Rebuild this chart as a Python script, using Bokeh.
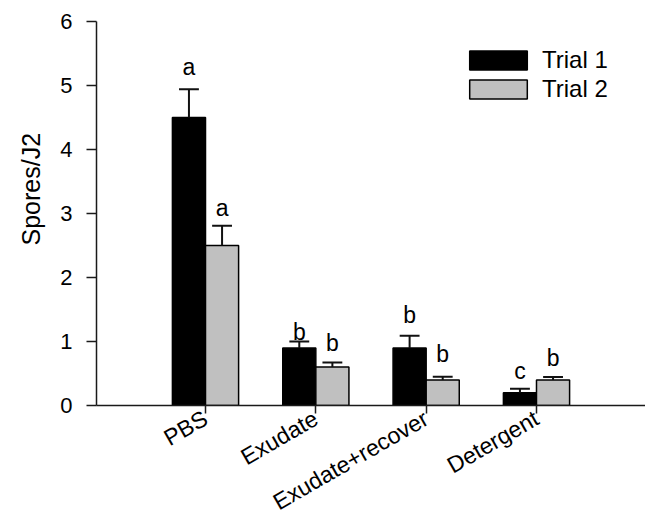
import numpy as np
from bokeh.plotting import figure
from bokeh.models import FixedTicker, Legend, LegendItem, Range1d, Title
from bokeh.core.properties import value
from bokeh.embed import file_html
from bokeh.resources import INLINE

categories = ["PBS", "Exudate", "Exudate+recover", "Detergent"]
trial1 = [4.5, 0.9, 0.9, 0.2]
trial1_se = [0.44, 0.10, 0.19, 0.06]
trial2 = [2.5, 0.6, 0.4, 0.4]
trial2_se = [0.31, 0.07, 0.05, 0.045]
trial1_letters = ["a", "b", "b", "c"]
trial2_letters = ["a", "b", "b", "b"]
trial1_letter_y = [5.18, 1.04, 1.30, 0.43]
trial2_letter_y = [2.97, 0.87, 0.69, 0.64]
y_ticks = [0, 1, 2, 3, 4, 5, 6]
y_label = "Spores/J2"

FONT = "Liberation Sans"

pos = np.arange(1, len(categories) + 1)
bw = 0.3
x1 = pos - bw / 2
x2 = pos + bw / 2

xr = Range1d(0.012, 4.988)
yr = Range1d(0, 6)
p = figure(width=645, height=529, output_backend="svg", toolbar_location=None,
           x_range=xr, y_range=yr,
           min_border_left=96, min_border_right=0, min_border_top=21,
           min_border_bottom=124)
p.outline_line_color = None
p.xgrid.visible = False
p.ygrid.visible = False
p.background_fill_color = "white"
p.border_fill_color = "white"

r1 = p.vbar(x=x1, top=trial1, width=bw, fill_color="black", line_color="black", line_width=1.5)
r2 = p.vbar(x=x2, top=trial2, width=bw, fill_color="#c0c0c0", line_color="black", line_width=1.5)

cap = 0.09
for xs, tops, se in ((x1, trial1, trial1_se), (x2, trial2, trial2_se)):
    tops = np.array(tops)
    ups = tops + np.array(se)
    p.segment(x0=xs, y0=tops, x1=xs, y1=ups, line_color="#111111", line_width=2)
    p.segment(x0=xs - cap, y0=ups, x1=xs + cap, y1=ups, line_color="#111111", line_width=2)

for xs, ys, letters in ((x1, trial1_letter_y, trial1_letters), (x2, trial2_letter_y, trial2_letters)):
    p.text(x=xs, y=ys, text=letters, text_align="center", text_baseline="alphabetic",
           y_offset=-7,
           text_font=value(FONT), text_font_size="23px", text_color="black")

xa = p.xaxis[0]
xa.ticker = FixedTicker(ticks=list(pos))
xa.major_label_overrides = {int(k): c for k, c in zip(pos, categories)}
xa.major_label_orientation = np.pi / 6
xa.major_label_text_font = FONT
xa.major_label_text_font_size = "23px"
xa.major_label_text_color = "black"
xa.major_label_standoff = 3
xa.major_tick_in = 0
xa.major_tick_out = 8
xa.minor_tick_in = 0
xa.minor_tick_out = 0
xa.axis_line_width = 1.5
xa.axis_line_color = "#1a1a1a"
xa.major_tick_line_width = 1.5
xa.major_tick_line_color = "#1a1a1a"

ya = p.yaxis[0]
ya.ticker = FixedTicker(ticks=y_ticks)
ya.major_label_text_font = FONT
ya.major_label_text_font_size = "22px"
ya.major_label_text_color = "black"
ya.major_label_standoff = 14
ya.major_tick_in = 0
ya.major_tick_out = 10
ya.minor_tick_in = 0
ya.minor_tick_out = 0
ya.axis_line_width = 1.5
ya.axis_line_color = "#1a1a1a"
ya.major_tick_line_width = 1.5
ya.major_tick_line_color = "#1a1a1a"

p.add_layout(Title(text=y_label, align="left", offset=160, standoff=26,
                   vertical_align="bottom",
                   text_font=FONT, text_font_size="25px", text_font_style="normal",
                   text_color="black"), "left")

legend = Legend(items=[LegendItem(label="Trial 1", renderers=[r1]),
                       LegendItem(label="Trial 2", renderers=[r2])],
                location=(366, 302), orientation="vertical",
                glyph_width=72, glyph_height=24, label_height=24, spacing=1,
                label_standoff=8, padding=0, margin=0,
                border_line_color=None, background_fill_alpha=0,
                label_text_font=FONT, label_text_font_size="24px", label_text_color="black")
p.add_layout(legend)

open("out.html", "w").write(file_html(p, INLINE))
